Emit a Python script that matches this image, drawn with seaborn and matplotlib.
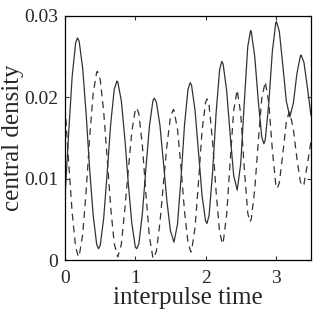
import pandas as pd
import matplotlib
matplotlib.use("Agg")
import matplotlib.pyplot as plt
import seaborn as sns

# solid curve
solid_t = [0.00, 0.05, 0.10, 0.15, 0.176, 0.20, 0.25, 0.30, 0.35, 0.40, 0.45, 0.476,
           0.50, 0.55, 0.60, 0.65, 0.70, 0.738, 0.75, 0.80, 0.85, 0.90, 0.95, 1.00, 1.02,
           1.05, 1.10, 1.15, 1.20, 1.25, 1.27, 1.30, 1.35, 1.40, 1.45, 1.50, 1.55,
           1.60, 1.65, 1.70, 1.75, 1.78, 1.80, 1.85, 1.90, 1.95, 2.00, 2.02,
           2.05, 2.10, 2.15, 2.20, 2.23, 2.25, 2.30, 2.35, 2.40, 2.45,
           2.50, 2.55, 2.60, 2.64, 2.65, 2.70, 2.75, 2.80, 2.83, 2.85, 2.90, 2.95, 3.00, 3.01,
           3.05, 3.10, 3.15, 3.20, 3.25, 3.30, 3.35, 3.36, 3.40, 3.45, 3.50]
solid_d = [0.0080, 0.0155, 0.0225, 0.0267, 0.0273, 0.0269, 0.0236, 0.0179, 0.0111, 0.0055, 0.0019, 0.0014,
           0.0018, 0.0052, 0.0108, 0.0168, 0.0210, 0.0220, 0.0219, 0.0196, 0.0150, 0.0094, 0.0045, 0.0016, 0.0014,
           0.0020, 0.0057, 0.0112, 0.0164, 0.0196, 0.0199, 0.0194, 0.0166, 0.0120, 0.0072, 0.0036, 0.0022,
           0.0044, 0.0100, 0.0166, 0.0210, 0.0218, 0.0215, 0.0184, 0.0132, 0.0079, 0.0048, 0.0045,
           0.0055, 0.0108, 0.0181, 0.0234, 0.0244, 0.0241, 0.0208, 0.0154, 0.0104, 0.0086,
           0.0118, 0.0192, 0.0262, 0.0282, 0.0281, 0.0250, 0.0196, 0.0151, 0.0143, 0.0148, 0.0193, 0.0256, 0.0292, 0.0293,
           0.0281, 0.0239, 0.0195, 0.0176, 0.0193, 0.0229, 0.0251, 0.0252, 0.0243, 0.0212, 0.0178]

# dashed curve
dashed_t = [0.00, 0.05, 0.10, 0.15, 0.19, 0.20, 0.25, 0.30, 0.35, 0.40, 0.45, 0.46,
            0.50, 0.55, 0.60, 0.65, 0.70, 0.75, 0.80, 0.85, 0.90, 0.95, 1.00, 1.02,
            1.05, 1.10, 1.15, 1.20, 1.25, 1.26, 1.30, 1.35, 1.40, 1.45, 1.50, 1.54,
            1.55, 1.60, 1.65, 1.70, 1.75, 1.79, 1.80, 1.85, 1.90, 1.95, 2.00, 2.02,
            2.05, 2.10, 2.15, 2.20, 2.24, 2.25, 2.30, 2.35, 2.40, 2.45,
            2.50, 2.55, 2.60, 2.63, 2.65, 2.70, 2.75, 2.80, 2.85, 2.90, 2.95, 3.00, 3.02,
            3.05, 3.10, 3.15, 3.19, 3.20, 3.25, 3.30, 3.35, 3.38, 3.40, 3.45, 3.50]
dashed_d = [0.0188, 0.0121, 0.0059, 0.0016, 0.0004, 0.0005, 0.0031, 0.0085, 0.0151, 0.0205, 0.0231, 0.0232,
            0.0222, 0.0182, 0.0124, 0.0064, 0.0020, 0.0004, 0.0019, 0.0062, 0.0111, 0.0158, 0.0185, 0.0187,
            0.0180, 0.0141, 0.0082, 0.0029, 0.0003, 0.0002, 0.0011, 0.0046, 0.0094, 0.0141, 0.0176, 0.0185,
            0.0184, 0.0161, 0.0114, 0.0060, 0.0021, 0.0010, 0.0011, 0.0040, 0.0097, 0.0159, 0.0194, 0.0198,
            0.0190, 0.0145, 0.0084, 0.0034, 0.0020, 0.0021, 0.0056, 0.0121, 0.0184, 0.0209,
            0.0180, 0.0114, 0.0058, 0.0047, 0.0050, 0.0087, 0.0145, 0.0199, 0.0219, 0.0193, 0.0136, 0.0092, 0.0088,
            0.0095, 0.0131, 0.0170, 0.0182, 0.0181, 0.0161, 0.0125, 0.0096, 0.0091, 0.0093, 0.0118, 0.0146]

x_ticks = [0, 1, 2, 3]
y_ticks = [0, 0.01, 0.02, 0.03]
y_tick_labels = ["0", "0.01", "0.02", "0.03"]


def main():
    solid = pd.DataFrame({"t": solid_t, "density": solid_d})
    dashed = pd.DataFrame({"t": dashed_t, "density": dashed_d})

    sns.set_style("ticks")
    plt.rcParams["font.family"] = ["Liberation Serif", "DejaVu Serif"]

    fig = plt.figure(figsize=(3.16, 3.13), dpi=100)
    ax = fig.add_axes([0.206, 0.169, 0.778, 0.780])

    sns.lineplot(data=solid, x="t", y="density", ax=ax, color="#333333",
                 linewidth=0.9, sort=False)
    sns.lineplot(data=dashed, x="t", y="density", ax=ax, color="#333333",
                 linewidth=0.9, sort=False, linestyle=(0, (5.5, 4)))

    ax.set_xlim(0, 3.5)
    ax.set_ylim(0, 0.03)
    ax.set_xticks(x_ticks)
    ax.set_yticks(y_ticks)
    ax.set_yticklabels(y_tick_labels)
    ax.tick_params(direction="in", top=True, right=True, length=3, width=0.8,
                   labelsize=14, color="#333333")
    ax.tick_params(axis="x", pad=7)
    ax.tick_params(axis="y", pad=5)
    for s in ax.spines.values():
        s.set_linewidth(0.9)
        s.set_color("black")

    ax.set_xlabel("interpulse time", fontsize=18, labelpad=0)
    ax.set_ylabel("central density", fontsize=18, labelpad=0)

    fig.savefig("out.png", dpi=100)


if __name__ == "__main__":
    main()
